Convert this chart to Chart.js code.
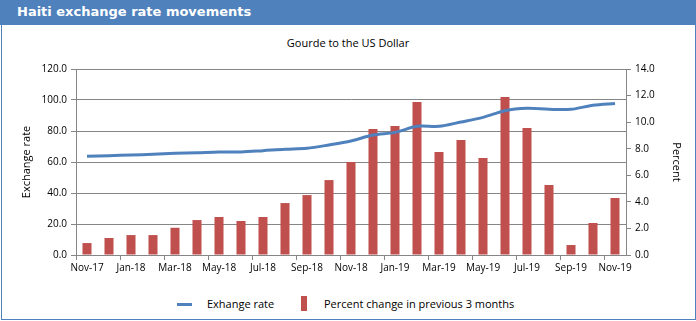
<!DOCTYPE html>
<html><head><meta charset="utf-8">
<script src="https://cdn.jsdelivr.net/npm/chart.js@4/dist/chart.umd.min.js"></script>
<style>
html,body{margin:0;padding:0;background:#fff;}
#wrap{position:relative;width:696px;height:321px;overflow:hidden;background:#fff;}
#frame{position:absolute;left:1px;top:0;width:693px;height:319px;border:1px solid #4F81BD;border-top:none;box-sizing:content-box;}
#bar{position:absolute;left:0;top:0;width:696px;height:25px;background:#4F81BD;}
#bar span{position:absolute;left:17px;top:4px;color:#fff;font:bold 13px "DejaVu Sans",sans-serif;}
#sub{position:absolute;left:0;width:696px;top:35px;text-align:center;font:11px "Open Sans",sans-serif;color:#000;}
#cv{position:absolute;left:0;top:55px;}
.lg{position:absolute;font:11px "Open Sans",sans-serif;color:#000;top:296px;line-height:16px;}
#l1{position:absolute;left:177px;top:303px;width:15px;height:3px;background:#4F81BD;}
#l2{position:absolute;left:301px;top:296px;width:6px;height:15px;background:#C0504D;}
</style></head>
<body><div id="wrap">
<div id="frame"></div>
<div id="bar"><span>Haiti exchange rate movements</span></div>
<div id="sub">Gourde to the US Dollar</div>
<canvas id="cv" width="696" height="230"></canvas>
<div id="l1"></div><div class="lg" style="left:207px">Exhange rate</div>
<div id="l2"></div><div class="lg" style="left:324px">Percent change in previous 3 months</div>
</div>
<script>
const categories = ["Nov-17","Dec-17","Jan-18","Feb-18","Mar-18","Apr-18","May-18","Jun-18","Jul-18","Aug-18","Sep-18","Oct-18","Nov-18","Dec-18","Jan-19","Feb-19","Mar-19","Apr-19","May-19","Jun-19","Jul-19","Aug-19","Sep-19","Oct-19","Nov-19"];
const exchangeRate = [63.7,64.1,64.5,65.0,65.6,66.0,66.5,66.5,67.3,68.2,68.8,71.0,73.6,77.4,79.1,83.0,83.0,85.8,88.8,93.1,94.6,94.0,94.0,96.6,97.8];
const percentChange = [0.90,1.28,1.50,1.50,2.05,2.63,2.86,2.56,2.86,3.91,4.51,5.64,7.00,9.48,9.71,11.51,7.75,8.65,7.30,11.89,9.56,5.27,0.75,2.41,4.29];
const leftTicks = [0,20,40,60,80,100,120];
const rightTicks = [0,2,4,6,8,10,12,14];

const font = {family:"Open Sans", size:10};
const gridCol = '#868686';
new Chart(document.getElementById('cv'), {
  data: {
    labels: categories,
    datasets: [
      {type:'line', label:'Exhange rate', data: exchangeRate, yAxisID:'y', borderColor:'#4F81BD', borderWidth:3, pointRadius:0, tension:0.3, order:0},
      {type:'bar', label:'Percent change in previous 3 months', data: percentChange, yAxisID:'y1', backgroundColor:'#C0504D', categoryPercentage:1, barPercentage:0.41, order:1}
    ]
  },
  options: {
    responsive:false, animation:false,
    layout:{padding:{top:14,left:0,right:0,bottom:0}},
    plugins:{legend:{display:false}, tooltip:{enabled:false}},
    scales:{
      x:{
        offset:true,
        grid:{offset:true, drawOnChartArea:false, tickLength:5, color:gridCol, tickColor: c => (c.index % 2 === 0 ? gridCol : 'rgba(0,0,0,0)')},
        border:{color:gridCol},
        ticks:{autoSkip:false, maxRotation:0, font:font, color:'#000', padding:2,
          callback:(v,i)=> i%2===0 ? categories[i] : ''},
        afterFit: s => { s.height = 30; }
      },
      y:{
        position:'left', min:0, max:120,
        afterBuildTicks: s => { s.ticks = leftTicks.map(v=>({value:v})); },
        grid:{color:gridCol, tickLength:5},
        border:{color:gridCol},
        ticks:{font:font, color:'#000', padding:4, callback:v=>v.toFixed(1)},
        title:{display:true, text:'Exchange rate', font:{family:"Open Sans", size:11}, color:'#000', padding:{top:20,bottom:6}},
        afterFit: s => { s.width = 76; }
      },
      y1:{
        position:'right', min:0, max:14,
        afterBuildTicks: s => { s.ticks = rightTicks.map(v=>({value:v})); },
        grid:{drawOnChartArea:false, color:gridCol, tickLength:5},
        border:{color:gridCol},
        ticks:{font:font, color:'#000', padding:4, callback:v=>v.toFixed(1)},
        title:{display:true, text:'Percent', font:{family:"Open Sans", size:11}, color:'#000', padding:{top:13,bottom:0}},
        afterFit: s => { s.width = 70; }
      }
    }
  },
  plugins:[{
    id:'topline',
    afterDraw(chart){
      const {ctx, chartArea:a} = chart;
      ctx.save(); ctx.strokeStyle=gridCol; ctx.lineWidth=1;
      ctx.beginPath(); ctx.moveTo(a.left, a.top+0.5); ctx.lineTo(a.right, a.top+0.5); ctx.stroke();
      ctx.restore();
    }
  }]
});
</script>
</body></html>
